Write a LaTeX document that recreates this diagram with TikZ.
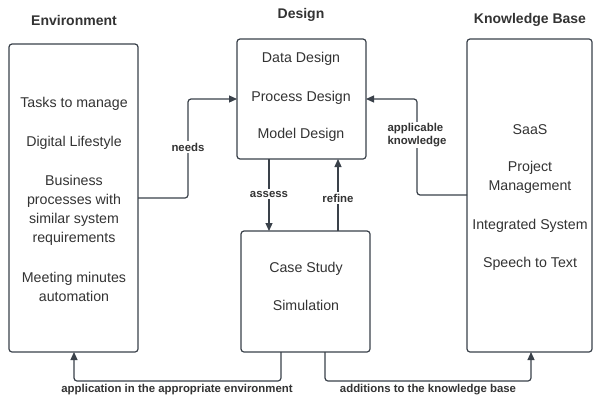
\documentclass[tikz,border=0pt]{standalone}
\usepackage{fontspec}
\setmainfont{Liberation Sans}
\usetikzlibrary{arrows.meta}
\definecolor{ln}{HTML}{3A414A}
\definecolor{tx}{HTML}{333333}
\tikzset{
  box/.style={draw=ln,line width=1.2pt,rounded corners=3pt},
  body/.style={font=\fontsize{14.2}{19}\selectfont,text=tx,align=center,inner sep=0pt,yshift=-1.8pt},
  ttl/.style={font=\fontsize{14}{17}\selectfont\bfseries,text=tx,inner sep=0pt},
  lbl/.style={font=\fontsize{11.4}{13}\selectfont\bfseries,text=tx,fill=white,inner sep=1.5pt},
  conn/.style={draw=ln,line width=1.2pt,rounded corners=3pt,-{Triangle[length=8pt,width=7pt]}},
}
\begin{document}
\begin{tikzpicture}[x=1pt,y=-1pt]
\path[use as bounding box,fill=white] (0,0) rectangle (593,399);
% boxes
\path[box] (9,44) rectangle (138,352);
\path[box] (237,39) rectangle (366,159);
\path[box] (241,231) rectangle (370,352);
\path[box] (467,39) rectangle (592,352);
\coordinate (envR) at (138,198);
\coordinate (envB) at (74,352);
\coordinate (desL) at (237,99);
\coordinate (desR) at (366,99);
\coordinate (desB1) at (269,159);
\coordinate (desB2) at (338,159);
\coordinate (caseT1) at (269,231);
\coordinate (caseT2) at (338,231);
\coordinate (caseB1) at (281,352);
\coordinate (caseB2) at (325,352);
\coordinate (kbL) at (467,195);
\coordinate (kbB) at (531,352);
% titles
\node[ttl] (t1) at (74,20) {Environment};
\node[ttl] (t2) at (301,15) {Design};
\node[ttl] (t3) at (530,20) {Knowledge Base};
% texts
\node[body] (e1) at (74,102) {Tasks to manage};
\node[body] (e2) at (74,141) {Digital Lifestyle};
\node[body] (e3) at (74,208.5) {Business\\processes with\\similar system\\requirements};
\node[body] (e4) at (74,285) {Meeting minutes\\automation};
\node[body] (d1) at (301,57) {Data Design};
\node[body] (d2) at (301,96) {Process Design};
\node[body] (d3) at (301,133) {Model Design};
\node[body] (c1) at (306,267) {Case Study};
\node[body] (c2) at (306,304) {Simulation};
\node[body] (k1) at (530,128) {SaaS};
\node[body] (k2) at (530,175.5) {Project\\Management};
\node[body] (k3) at (530,224) {Integrated System};
\node[body] (k4) at (530,262) {Speech to Text};
% connectors
\draw[conn] (envR) -| (188,99) -- (desL);
\node[lbl] (l1) at (188,147) {needs};
\draw[conn] (desB1) -- (caseT1);
\node[lbl] (l2) at (269,194) {assess};
\draw[conn] (caseT2) -- (desB2);
\node[lbl] (l3) at (338,198) {refine};
\draw[conn] (kbL) -| (417,99) -- (desR);
\node[lbl,align=left,inner sep=1pt] (l4) at (417,135) {applicable\\knowledge};
\draw[conn] (caseB1) |- (74,381) -- (envB);
\draw[conn] (caseB2) |- (531,381) -- (kbB);
\node[font=\fontsize{11.4}{13}\selectfont\bfseries,text=tx,inner sep=0pt] (l5) at (177,390) {application in the appropriate environment};
\node[font=\fontsize{11.4}{13}\selectfont\bfseries,text=tx,inner sep=0pt] (l6) at (428,390) {additions to the knowledge base};
\end{tikzpicture}
\end{document}
